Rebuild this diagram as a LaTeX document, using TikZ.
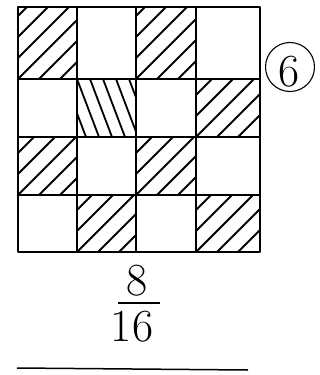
\documentclass[tikz,border=0pt]{standalone}
\usepackage{fontspec}
\begin{document}
\begin{tikzpicture}[x=1pt,y=-1pt,
  gridline/.style={line width=2.2pt, line cap=round, line join=round},
  hatchline/.style={line width=1.8pt},
  digit/.style={inner sep=0pt, font=\fontsize{46}{46}\selectfont},
  ring/.style={draw, circle, line width=1.1pt, minimum size=49pt, inner sep=0pt}]
\useasboundingbox (0,0) rectangle (320,375);
% hatched cells (45 degree)
\foreach \xa/\ya/\xb/\yb in {18/7/77/79, 136/7/196/79, 196/79/260/137,
   18/137/77/195, 136/137/196/195, 77/195/136/252, 196/195/260/252}{
  \begin{scope}
    \clip (\xa,\ya) rectangle (\xb,\yb);
    \foreach \k in {-5,...,4}
      \draw[hatchline] (\xa+\k*21,\yb) -- ++(90,-90);
  \end{scope}
}
% steep hatched cell
\begin{scope}
  \clip (77,79) rectangle (136,137);
  \foreach \k in {-2,...,5}
    \draw[hatchline] (77+\k*13,79) -- ++(22,58);
\end{scope}
% grid
\draw[gridline] (18,7) rectangle (260,252);
\foreach \x in {77,136,196} \draw[gridline] (\x,7) -- (\x,252);
\foreach \y in {79,137,195} \draw[gridline] (18,\y) -- (260,\y);
% circled number
\node[ring] (six) at (290,67) {};
\node[digit] (sixtext) at (289,72) {6};
% fraction
\node[digit] (num) at (137,281) {8};
\node[digit] (den) at (132,327) {16};
\coordinate (barL) at (118,303);
\coordinate (barR) at (160,303);
\draw[line width=1.8pt] (barL) -- (barR);
% answer line
\coordinate (lineL) at (17,368);
\coordinate (lineR) at (248,370);
\draw[line width=1.5pt] (lineL) -- (lineR);
\end{tikzpicture}
\end{document}
